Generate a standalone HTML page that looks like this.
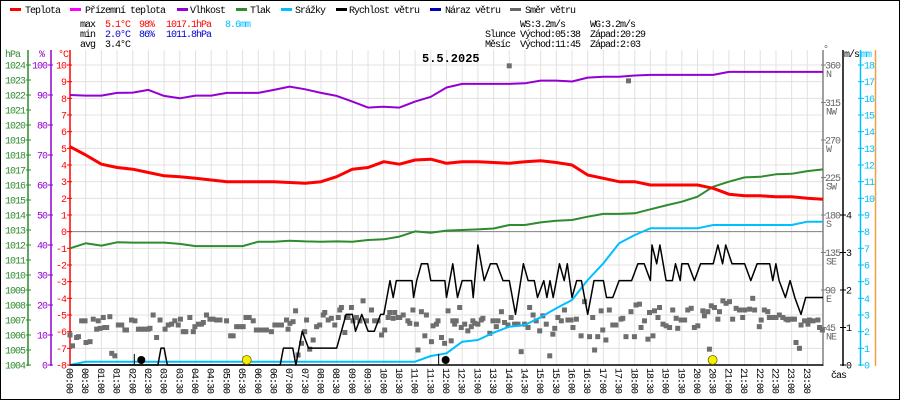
<!DOCTYPE html>
<html><head><meta charset="utf-8"><style>
html,body{margin:0;padding:0;background:#fff}
svg{display:block}
text{font-family:"Liberation Mono",monospace;font-size:10px;letter-spacing:-1px}
</style></head><body>
<svg id="chart" width="900" height="400" xmlns="http://www.w3.org/2000/svg">
<rect x="0.5" y="0.5" width="899" height="399" fill="#fff" stroke="#000"/>
<g id="grid"></g>
<g id="legend"></g>
<g>
<text x="80" y="27">max</text><text x="105" y="27" fill="#f00">5.1°C</text><text x="139" y="27" fill="#f00">98%</text><text x="166" y="27" fill="#f00">1017.1hPa</text><text x="225" y="27" fill="#00bfff">8.6mm</text>
<text x="80" y="37">min</text><text x="105" y="37" fill="#0000d0">2.0°C</text><text x="139" y="37" fill="#0000d0">86%</text><text x="166" y="37" fill="#0000d0">1011.8hPa</text>
<text x="80" y="47">avg</text><text x="105" y="47">3.4°C</text>
<text x="520" y="27">WS:3.2m/s</text><text x="590" y="27">WG:3.2m/s</text>
<text x="485" y="37">Slunce</text><text x="520" y="37">Východ:05:38</text><text x="590" y="37">Západ:20:29</text>
<text x="485" y="47">Měsíc</text><text x="520" y="47">Východ:11:45</text><text x="590" y="47">Západ:2:03</text>
</g>
<text x="422" y="62" style="font-size:12px;font-weight:bold;letter-spacing:0">5.5.2025</text>
<g id="axes"></g>
<g id="series"></g>
</svg>
<script>
const hours = [0,0.5,1,1.5,2,2.5,3,3.5,4,4.5,5,5.5,6,6.5,7,7.5,8,8.5,9,9.5,10,10.5,11,11.5,12,12.5,13,13.5,14,14.5,15,15.5,16,16.5,17,17.5,18,18.5,19,19.5,20,20.5,21,21.5,22,22.5,23,23.5,24];
const temperature = [5.1,4.6,4.05,3.85,3.75,3.55,3.35,3.3,3.2,3.1,3.0,3.0,3.0,3.0,2.95,2.9,3.0,3.3,3.75,3.85,4.2,4.05,4.3,4.35,4.1,4.2,4.2,4.15,4.1,4.2,4.25,4.15,4.0,3.4,3.2,3.0,3.0,2.8,2.8,2.8,2.8,2.6,2.25,2.15,2.15,2.1,2.1,2.0,1.95];
const humidity = [90.0,89.8,89.8,90.7,90.8,91.7,89.7,88.9,89.8,89.8,90.7,90.7,90.7,91.7,92.8,91.9,90.7,89.7,87.8,85.8,86.1,85.8,87.8,89.4,92.5,93.7,93.7,93.7,93.7,93.9,94.8,94.8,94.5,95.8,96.1,96.1,96.5,96.7,96.7,96.7,96.7,96.7,97.7,97.7,97.7,97.7,97.7,97.7,97.7];
const pressure = [1011.78,1012.11,1011.96,1012.18,1012.16,1012.16,1012.16,1012.07,1011.93,1011.93,1011.93,1011.93,1012.22,1012.22,1012.29,1012.24,1012.22,1012.24,1012.22,1012.33,1012.38,1012.56,1012.91,1012.82,1012.96,1013.0,1013.04,1013.1,1013.33,1013.33,1013.51,1013.62,1013.67,1013.89,1014.07,1014.07,1014.11,1014.38,1014.64,1014.89,1015.22,1015.89,1016.22,1016.51,1016.55,1016.71,1016.75,1016.93,1017.04];
const precipitation = [0,0.2,0.2,0.2,0.2,0.2,0.2,0.2,0.2,0.2,0.2,0.2,0.2,0.2,0.2,0.2,0.2,0.2,0.2,0.2,0.2,0.2,0.2,0.54,0.7,1.4,1.5,1.94,2.3,2.4,2.86,3.4,3.9,5.1,6.1,7.3,7.8,8.2,8.2,8.2,8.2,8.4,8.4,8.4,8.4,8.4,8.4,8.6,8.6];
const windHours = [0,2.8,2.9,3.0,3.1,6.7,6.8,7.1,7.2,7.4,7.6,8.5,8.8,9.0,9.1,9.3,9.5,9.7,9.9,10.0,10.2,10.3,10.4,10.9,10.95,11.05,11.2,11.4,11.5,11.95,12.0,12.2,12.35,12.5,12.8,12.85,13.0,13.2,13.4,13.6,13.8,14.0,14.2,14.45,14.6,14.8,14.9,15.1,15.2,15.3,15.4,15.6,15.75,15.85,16.0,16.15,16.3,16.5,16.7,17.0,17.1,17.3,17.5,17.9,18.1,18.3,18.5,18.55,18.7,18.8,19.0,19.2,19.3,19.45,19.5,19.7,19.9,20.1,20.5,20.65,20.8,20.9,21.1,21.5,21.7,21.9,22.3,22.4,22.5,22.6,22.8,22.95,23.1,23.3,23.45,24];
const windSpeed = [0,0,0.45,0.45,0,0,0.45,0.45,0,0.9,0.45,0.45,1.35,1.35,0.9,1.35,0.9,0.9,1.35,1.35,2.25,1.8,2.25,2.25,1.8,2.25,2.7,2.7,2.25,2.25,1.8,2.7,1.8,2.25,2.25,1.8,3.2,2.25,2.7,2.7,2.25,2.25,1.35,2.7,2.25,2.25,1.8,2.25,1.8,2.25,1.8,2.7,2.25,2.7,1.8,2.25,2.25,1.35,2.25,2.25,1.8,1.8,2.25,2.25,2.7,2.7,2.25,3.2,2.7,3.2,2.25,2.25,2.7,2.25,2.7,2.7,2.25,2.7,2.7,3.2,2.7,3.2,2.7,2.7,2.25,2.7,2.7,2.25,2.7,2.25,1.8,2.25,1.8,1.35,1.8,1.8];
const dirHours = [0,0.08,0.21,0.27,0.37,0.48,0.51,0.64,0.74,0.85,0.9,0.96,1.06,1.11,1.17,1.27,1.33,1.43,1.54,1.65,1.75,1.8,1.96,2.07,2.18,2.28,2.39,2.49,2.55,2.65,2.76,2.87,3.03,3.13,3.24,3.34,3.45,3.52,3.61,3.69,3.82,3.93,3.98,4.09,4.19,4.25,4.35,4.46,4.56,4.67,4.78,4.99,5.12,5.2,5.31,5.41,5.52,5.61,5.71,5.84,5.94,6.05,6.16,6.26,6.42,6.53,6.63,6.74,6.9,6.95,7.01,7.11,7.19,7.27,7.38,7.48,7.54,7.64,7.75,7.86,7.96,8.07,8.12,8.23,8.33,8.44,8.55,8.6,8.65,8.76,8.81,8.86,8.97,9.02,9.13,9.24,9.34,9.45,9.61,9.71,9.82,9.93,10.03,10.14,10.19,10.3,10.35,10.46,10.51,10.62,10.77,10.83,10.93,11.04,11.09,11.2,11.31,11.36,11.52,11.57,11.68,11.73,11.84,11.94,12.05,12.15,12.2,12.26,12.31,12.42,12.47,12.58,12.68,12.79,12.84,12.9,13.0,13.11,13.16,13.38,13.48,13.59,13.64,13.75,13.85,13.96,14.0,14.06,14.17,14.28,14.38,14.49,14.6,14.65,14.76,14.86,14.97,15.07,15.18,15.29,15.39,15.45,15.55,15.66,15.76,15.87,15.97,16.03,16.14,16.29,16.4,16.56,16.66,16.72,16.82,16.93,16.98,17.08,17.19,17.3,17.4,17.56,17.62,17.72,17.8,17.88,17.99,18.04,18.15,18.2,18.31,18.42,18.47,18.58,18.63,18.74,18.79,18.9,19.0,19.11,19.21,19.32,19.37,19.48,19.59,19.69,19.8,19.9,20.01,20.17,20.22,20.33,20.38,20.44,20.54,20.65,20.7,20.81,20.91,21.02,21.12,21.23,21.34,21.44,21.5,21.66,21.76,21.82,21.97,22.03,22.13,22.24,22.29,22.4,22.5,22.61,22.72,22.82,22.88,22.98,23.09,23.14,23.25,23.3,23.41,23.52,23.57,23.68,23.84,23.89,23.98];
const dirDegrees = [36,23,33,34,53,53,27,28,55,43,53,44,57,45,45,58,14,11,48,48,42,42,54,53,43,43,43,43,44,60,33,54,43,48,49,53,48,55,40,40,57,40,46,49,49,51,60,55,55,54,54,53,35,35,46,46,46,57,57,53,42,42,42,42,40,48,48,48,54,43,50,52,65,12,26,40,54,19,30,46,48,60,63,54,56,48,57,66,69,39,57,57,69,53,57,53,77,53,66,53,53,36,42,57,63,56,63,57,57,60,53,50,66,49,18,64,35,60,28,47,49,53,33,26,65,29,53,49,53,69,45,49,41,46,53,50,49,54,56,38,53,46,53,64,51,48,359,57,49,49,16,49,45,69,60,53,41,59,49,11,37,44,57,53,66,54,54,45,55,35,76,34,57,18,34,65,42,30,66,48,48,55,56,34,341,64,34,72,73,45,53,31,63,35,65,57,69,49,47,45,66,56,44,54,54,66,68,45,47,65,59,64,19,71,69,55,64,77,74,76,55,68,66,57,66,67,80,66,46,54,66,64,57,57,57,60,57,55,54,55,55,27,20,48,53,49,54,53,54,45,42];
const tempTicks = [10,9,8,7,6,5,4,3,2,1,0,-1,-2,-3,-4,-5,-6,-7,-8];
const hpaTicks = [1024,1023,1022,1021,1020,1019,1018,1017,1016,1015,1014,1013,1012,1011,1010,1009,1008,1007,1006,1005,1004];
const humTicks = [100,90,80,70,60,50,40,30,20,10,0];
const dirTicks = [360,315,270,225,180,135,90,45];
const dirNames = ["N","NW","W","SW","S","SE","E","NE"];
const windTicks = [4,3,2,1,0];
const mmTicks = [18,17,16,15,14,13,12,11,10,9,8,7,6,5,4,3,2,1,0];
const sunEvents = [5.633, 20.483];
const moonEvents = [2.05, 11.75];

const NS="http://www.w3.org/2000/svg";
const X0=70, X1=823, YT=65, YB=365;
const xS=h=>X0+(X1-X0)*h/24;
const yT=v=>YT+(10-v)*(YB-YT)/18;
const yP=p=>YB-(p-1004)*(YB-YT)/20;
const yH=v=>YB-v*(YB-YT)/100;
const yD=d=>YB-d*(YB-YT)/360;
const yW=v=>YB-v*(YB-YT)/8;
const yM=v=>YB-v*(YB-YT)/18;
function mk(tag,attrs,parent){const e=document.createElementNS(NS,tag);for(const k in attrs)e.setAttribute(k,attrs[k]);parent.appendChild(e);return e;}
function txt(x,y,s,fill,parent,anchor){const t=mk('text',{x:x,y:y,fill:fill||'#000'},parent);if(anchor)t.setAttribute('text-anchor',anchor);t.textContent=s;return t;}
const grid=document.getElementById('grid'),axes=document.getElementById('axes'),series=document.getElementById('series'),legend=document.getElementById('legend');

for(let i=0;i<=48;i++){const x=xS(i/2);const l=mk('line',{x1:x,x2:x,y1:50,y2:YB,stroke:'#e4e0e0','stroke-width':1},grid);

}
tempTicks.forEach(v=>{const y=yT(v);const l=mk('line',{x1:X0,x2:X1,y1:y,y2:y,stroke:v===0?'#808080':'#e4e0e0','stroke-width':1},grid);

});

const legItems=[["Teplota","#f00",10,25],["Přízemní teplota","#f0f",70,85],["Vlhkost","#9400d3",177,190],["Tlak","#2e8b2e",236,250],["Srážky","#00bfff",281,295],["Rychlost větru","#000",336,349],["Náraz větru","#0000c0",430,445],["Směr větru","#666",510,525]];
legItems.forEach(it=>{const g=mk('g',{},legend);


mk('rect',{x:it[2],y:8,width:11,height:3,fill:it[1]},g);txt(it[3],13,it[0],'#000',g);});

function vaxis(x,color,name){const l=mk('line',{x1:x,x2:x,y1:50,y2:YB+1,stroke:color,'stroke-width':1.5},axes);

}
vaxis(28,'#2e8b2e','pressure-axis');vaxis(51,'#9400d3','humidity-axis');vaxis(70,'#f00','temperature-axis');
txt(5,57,'hPa','#2e8b2e',axes);txt(39,57,'%','#9400d3',axes);txt(58,57,'°C','#f00',axes);
hpaTicks.forEach(v=>{const y=yP(v);mk('line',{x1:26,x2:31,y1:y,y2:y,stroke:'#2e8b2e'},axes);txt(25,y+3.5,String(v),'#2e8b2e',axes,'end');});
humTicks.forEach(v=>{const y=yH(v);mk('line',{x1:48,x2:53,y1:y,y2:y,stroke:'#9400d3'},axes);txt(47,y+3.5,String(v),'#9400d3',axes,'end');});
tempTicks.forEach(v=>{const y=yT(v);mk('line',{x1:67,x2:72,y1:y,y2:y,stroke:'#f00'},axes);txt(66,y+3.5,String(v),'#f00',axes,'end');});
vaxis(823,'#808080','direction-axis');vaxis(843,'#000','wind-speed-axis');vaxis(860.5,'#00bfff','precipitation-axis');
const ol=mk('line',{x1:875.5,x2:875.5,y1:50,y2:YB+1,stroke:'#f0a040','stroke-width':1.5},axes);


txt(823,52,'°','#666',axes);txt(844,57,'m/s','#000',axes);txt(861,57,'mm','#00bfff',axes);
dirTicks.forEach((v,i)=>{const y=yD(v);mk('line',{x1:821,x2:826,y1:y,y2:y,stroke:'#808080'},axes);txt(825,y+3.5,String(v),'#666',axes);txt(826,y+12,dirNames[i],'#666',axes);});
windTicks.forEach(v=>{const y=yW(v);mk('line',{x1:840,x2:846,y1:y,y2:y,stroke:'#000'},axes);txt(846,y+3.5,String(v),'#000',axes);});
mmTicks.forEach(v=>{const y=yM(v);mk('line',{x1:858,x2:864,y1:y,y2:y,stroke:'#00bfff'},axes);txt(864,y+3.5,String(v),'#00bfff',axes);});
const xl=mk('line',{x1:X0,x2:X1,y1:YB,y2:YB,stroke:'#000','stroke-width':1.5},axes);


for(let i=0;i<48;i++){const h=Math.floor(i/2),m=i%2?'30':'00';const s=(h<10?'0':'')+h+':'+m;const x=xS(i/2);
const t=mk('text',{x:0,y:0,transform:`translate(${x-3.5},368) rotate(90)`},axes);t.textContent=s;

}
txt(831,378,'čas','#000',axes);

function pathOf(xs,ys,fx,fy){return xs.map((h,i)=>(i?'L':'M')+fx(h).toFixed(1)+','+fy(ys[i]).toFixed(1)).join('');}
function line(d,color,w,name){const p=mk('path',{d:d,fill:'none',stroke:color,'stroke-width':w,'stroke-linejoin':'round'},series);

}
dirHours.forEach((h,i)=>{const r=mk('rect',{x:xS(h)-2.5,y:yD(dirDegrees[i])-2.5,width:5,height:5,fill:'#6e6e6e'},series);

});
line(pathOf(hours,pressure,xS,yP),'#2e8b2e',2,'pressure-line');
line(pathOf(hours,humidity,xS,yH),'#9400d3',2,'humidity-line');
line(pathOf(hours,temperature,xS,yT),'#f00',3,'temperature-line');
line(pathOf(hours,precipitation,xS,yM),'#00bfff',2,'precipitation-line');
line(pathOf(windHours,windSpeed,xS,yW),'#000',1.5,'wind-speed-line');
moonEvents.forEach(h=>{const x=xS(h);mk('line',{x1:x,x2:x,y1:354,y2:YB,stroke:'#000'},series);
const c=mk('circle',{cx:x+7,cy:360,r:4,fill:'#000'},series);

});
sunEvents.forEach(h=>{const c=mk('circle',{cx:xS(h),cy:360,r:4.5,fill:'#f0f000',stroke:'#806000','stroke-width':0.8},series);

});
</script>
</body></html>
